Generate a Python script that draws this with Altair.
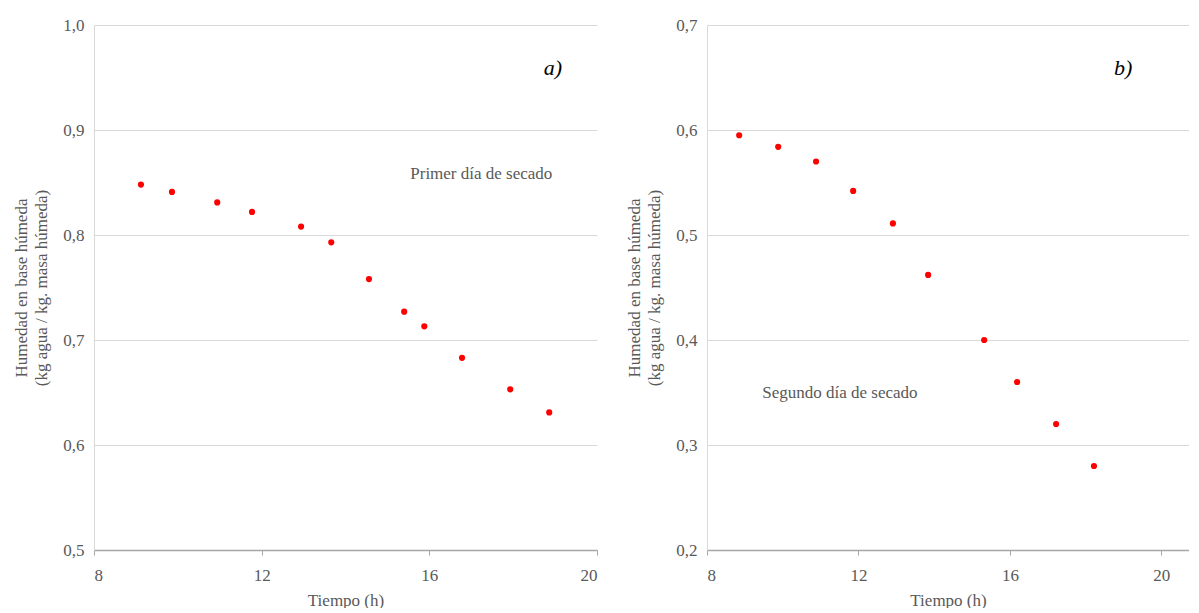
import altair as alt
import pandas as pd

# Panel a) - first drying day
t_a = [9.12, 9.86, 10.94, 11.77, 12.94, 13.66, 14.56, 15.40, 15.88, 16.78, 17.93, 18.86]
h_a = [0.848, 0.841, 0.831, 0.822, 0.808, 0.793, 0.758, 0.727, 0.713, 0.683, 0.653, 0.631]
# Panel b) - second drying day
t_b = [8.85, 9.88, 10.88, 11.86, 12.91, 13.84, 15.32, 16.19, 17.22, 18.22]
h_b = [0.595, 0.584, 0.570, 0.542, 0.511, 0.462, 0.400, 0.360, 0.320, 0.280]

x_ticks = [8, 12, 16, 20]
y_ticks_a = [0.5, 0.6, 0.7, 0.8, 0.9, 1.0]
y_ticks_b = [0.2, 0.3, 0.4, 0.5, 0.6, 0.7]

x_title = "Tiempo (h)"
y_title = ["Humedad en base húmeda", "(kg agua / kg. masa húmeda)"]

notes_a = pd.DataFrame({"x": [17.24], "y": [0.858], "t": ["Primer día de secado"]})
tag_a = pd.DataFrame({"x": [18.95], "y": [0.959], "t": ["a)"]})
notes_b = pd.DataFrame({"x": [11.51], "y": [0.350], "t": ["Segundo día de secado"]})
tag_b = pd.DataFrame({"x": [18.99], "y": [0.659], "t": ["b)"]})

FONT = "'Liberation Serif', 'Times New Roman', 'DejaVu Serif', serif"
GRAY = "#595959"
label_expr = "replace(format(datum.value, '.1f'), '.', ',')"


def panel(t, h, xdom, ydom, yticks, width, notes, tag):
    df = pd.DataFrame({"t": t, "h": h})
    x = alt.X("t:Q", scale=alt.Scale(domain=xdom, nice=False, zero=False),
              axis=alt.Axis(values=x_ticks, title=x_title, grid=False,
                            tickSize=5, tickColor="#a6a6a6", domainColor="#a6a6a6",
                            domainWidth=1.5, labelPadding=12, titlePadding=9,
                            labelFont=FONT, titleFont=FONT, labelFontSize=17,
                            titleFontSize=17, labelColor=GRAY, titleColor=GRAY,
                            titleFontWeight="normal"))
    y = alt.Y("h:Q", scale=alt.Scale(domain=ydom, nice=False, zero=False),
              axis=alt.Axis(values=yticks, title=y_title, labelExpr=label_expr,
                            ticks=False, domainColor="#d9d9d9", gridColor="#d9d9d9",
                            labelPadding=10, titlePadding=12,
                            labelFont=FONT, titleFont=FONT, labelFontSize=17,
                            titleFontSize=17, labelColor=GRAY, titleColor=GRAY,
                            titleFontWeight="normal", titleLineHeight=20))
    pts = alt.Chart(df).mark_circle(size=38, color="#ff0000", opacity=1).encode(x=x, y=y)
    note = alt.Chart(notes).mark_text(font=FONT, fontSize=17, color=GRAY).encode(
        x="x:Q", y="y:Q", text="t:N")
    lab = alt.Chart(tag).mark_text(font=FONT, fontSize=22, fontStyle="italic",
                                   color="#000000").encode(x="x:Q", y="y:Q", text="t:N")
    return alt.layer(pts, note, lab).properties(width=width, height=525)


left = panel(t_a, h_a, [8, 20], [0.5, 1.0], y_ticks_a, 503, notes_a, tag_a)
right = panel(t_b, h_b, [8, 20.73], [0.2, 0.7], y_ticks_b, 482, notes_b, tag_b)

chart = alt.hconcat(left, right, spacing=110, bounds="flush").properties(
    padding={"top": 8, "left": 4, "right": 0, "bottom": 0}
).configure_view(stroke=None)

chart.save("out.html", embed_options={"renderer": "svg", "actions": False})
